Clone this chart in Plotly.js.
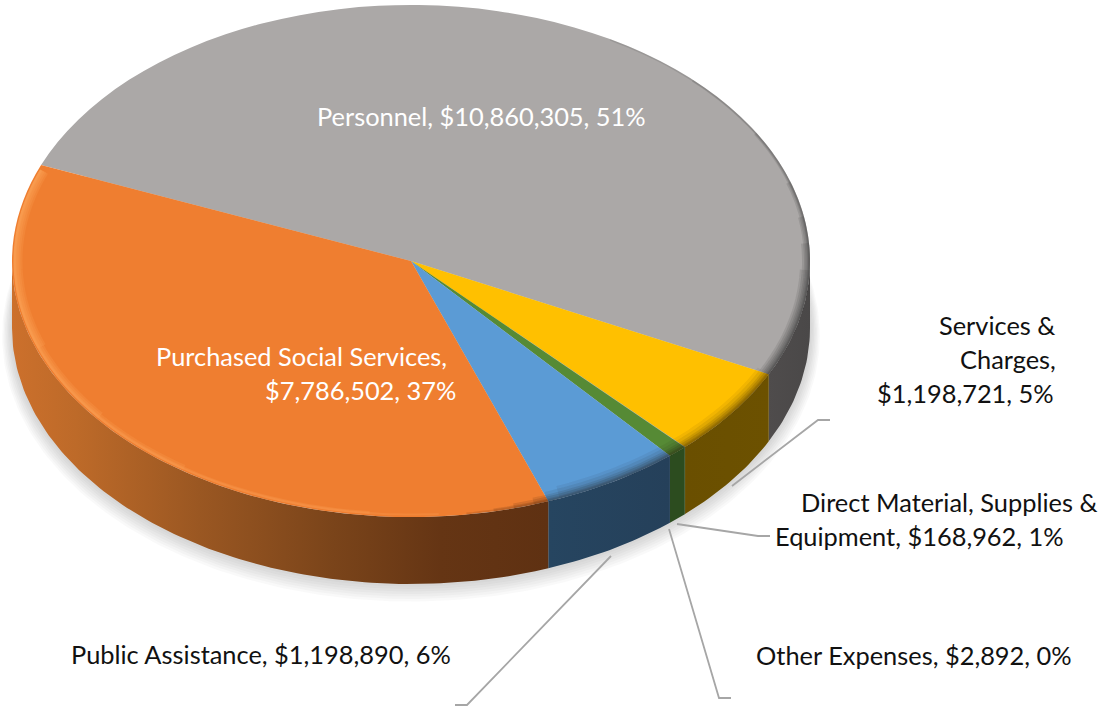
<!DOCTYPE html>
<html><head><meta charset="utf-8">
<script src="https://cdn.plot.ly/plotly-3.0.1.min.js"></script>
<style>html,body{margin:0;padding:0;background:#fff;overflow:hidden}#chart{width:1109px;height:708px}</style>
</head><body><div id="chart"></div>
<script>
// ---- data, clockwise from the top-left start of Personnel
const categories = ["Personnel","Services & Charges","Other Expenses","Direct Material, Supplies & Equipment","Public Assistance","Purchased Social Services"];
const values = [10860305,1198721,2892,168962,1198890,7786502];
const topColors = ["#aba8a7","#ffc000","#a5a5a5","#568a35","#5b9bd5","#ef7e30"];
const labelLines = ["Personnel, $10,860,305, 51%","Purchased Social Services,","$7,786,502, 37%","Services &","Charges,","$1,198,721, 5%","Direct Material, Supplies &","Equipment, $168,962, 1%","Other Expenses, $2,892, 0%","Public Assistance, $1,198,890, 6%"];

// ---- layout of the tilted disc (pixels)
const CX=411, CY=261, A=399, B=256, DEPTH=67, ROT=292;
const FONT='Lato, "Open Sans", sans-serif', FS=25.4;
const labelPos=[[648,116,'right','#fff'],[449,356,'right','#fff'],[458,390,'right','#fff'],
 [1057,325,'right','#111'],[1058,359,'right','#111'],[1056,393,'right','#111'],
 [1100,502,'right','#111'],[1066,536,'right','#111'],[1074,655,'right','#111'],[453,654,'right','#111']];
const leaders=[[[732,486],[818,420],[830,420]],[[677,524],[758,536],[770,536]],[[669,529],[719,698],[731,698]],[[611,556],[467,705],[455,705]]];

const total=values.reduce((a,b)=>a+b,0);
const rad=d=>d*Math.PI/180;
const pt=(d,inset=0,dy=0)=>[CX+(A-inset)*Math.sin(rad(d)),CY+dy-(B-inset)*Math.cos(rad(d))];
function arc(d1,d2,inset=0,dy=0){const n=Math.max(2,Math.ceil(Math.abs(d2-d1)));const o=[];for(let i=0;i<=n;i++)o.push(pt(d1+(d2-d1)*i/n,inset,dy));return o;}

// slice start/end angles, derived from the values
const spans=[];let acc=ROT;values.forEach(v=>{const s=v/total*360;spans.push([acc,acc+s]);acc+=s;});

const traces=[];
// soft ground shadow
for(let k=14;k>=2;k-=2){const e=arc(0,360,-k*0.7,DEPTH+k*0.55);
 traces.push({type:'scatter',mode:'lines',x:e.map(p=>p[0]),y:e.map(p=>p[1]),fill:'toself',fillcolor:'rgba(90,90,90,0.035)',line:{width:0},hoverinfo:'skip',showlegend:false});}

// side wall of every slice that faces the viewer
const wallScales=[
 [[0,'#4f4c4c'],[1,'#4a4848']],
 [[0,'#6a4f00'],[1,'#6c5100']],
 [[0,'#2f4a1e'],[1,'#2f4a1e']],
 [[0,'#2c4c1f'],[1,'#2c4c1f']],
 [[0,'#264560'],[1,'#25405a']],
 [[0,'#cc702c'],[0.12,'#bd6a29'],[0.35,'#9a5722'],[0.6,'#7a441a'],[0.8,'#653514'],[1,'#5f3112']]];
spans.forEach((s,i)=>{
 // the slice may wrap past the top of the circle: shift it by whole turns
 [-360,0,360].forEach(shift=>{
  const lo=Math.max(s[0]+shift,90),hi=Math.min(s[1]+shift,270);
  if(hi<=lo)return;
  const t=arc(lo,hi),b=arc(hi,lo,0,DEPTH),p=t.concat(b);p.push(t[0]);
  traces.push({type:'scatter',mode:'lines',x:p.map(q=>q[0]),y:p.map(q=>q[1]),fill:'toself',
   fillgradient:{type:'horizontal',colorscale:wallScales[i]},fillcolor:wallScales[i][0][1],line:{width:0},hoverinfo:'skip',showlegend:false});
 });
});
// leader lines
leaders.forEach(l=>traces.push({type:'scatter',mode:'lines',x:l.map(p=>p[0]),y:l.map(p=>p[1]),line:{color:'#a6a6a6',width:1.8},hoverinfo:'skip',showlegend:false}));

// top surface
traces.push({type:'pie',labels:categories,values:values,sort:false,direction:'clockwise',rotation:ROT,
 marker:{colors:topColors,line:{width:0}},textinfo:'none',hoverinfo:'label+value+percent',showlegend:false,
 domain:{x:[0,0.638],y:[0,1]}});

// bevel on the rim of the top surface
const shapes=[];
function rim(d1,d2,inset,width,color){const p=arc(d1,d2,inset);
 shapes.push({type:'path',xref:'x',yref:'y',layer:'above',path:'M'+p.map(q=>q[0].toFixed(1)+' '+q[1].toFixed(1)).join('L'),line:{color:color,width:width}});}
// dark edge of the grey slice, growing towards the right
[[30,1.5,'0.14'],[45,2,'0.14'],[60,3,'0.14'],[72,4.5,'0.14'],[80,6,'0.14'],[86,8,'0.14'],[92,10,'0.12']].forEach(r=>rim(r[0],116.3,r[1]/2,r[1],'rgba(50,48,48,'+r[2]+')'));
// light edge of the orange slice, fading in along the curve
[[176,2,'0.22'],[186,3,'0.22'],[215,5,'0.18'],[232,7,'0.2'],[250,9,'0.18']].forEach(r=>rim(r[0],291,r[1]/2+1.5,r[1],'rgba(255,170,95,'+r[2]+')'));
// dark soft edge along the front slices, fading out over the orange
[[2,172,'0.12'],[3,168,'0.12'],[5,165,'0.12'],[7,162,'0.1'],[10,160,'0.08'],[13,158,'0.06']].forEach(r=>rim(116.3,r[1],r[0]/2,r[0],'rgba(30,20,10,'+r[2]+')'));

const annotations=labelLines.map((t,i)=>({xref:'x',yref:'y',x:labelPos[i][0],y:labelPos[i][1],text:t,showarrow:false,
 xanchor:labelPos[i][2],yanchor:'middle',font:{family:FONT,size:FS,color:labelPos[i][3]}}));

const layout={width:1109,height:708,margin:{l:0,r:0,t:0,b:0},paper_bgcolor:'#fff',plot_bgcolor:'#fff',showlegend:false,
 xaxis:{range:[0,1109],visible:false,fixedrange:true},yaxis:{range:[708,0],visible:false,fixedrange:true},
 shapes:shapes,annotations:annotations};

const gd=document.getElementById('chart');
function tilt(){
 const c=gd.calcdata.find(t=>t[0].trace.type==='pie')[0];
 const sx=A/c.r,sy=B/c.r;
 const g=gd.querySelector('.pielayer');
 g.setAttribute('transform','translate('+(CX-c.cx*sx)+','+(CY-c.cy*sy)+') scale('+sx+','+sy+')');
}
Plotly.newPlot(gd,traces,layout,{displayModeBar:false,staticPlot:false}).then(()=>{tilt();gd.on('plotly_afterplot',tilt);});
</script></body></html>
